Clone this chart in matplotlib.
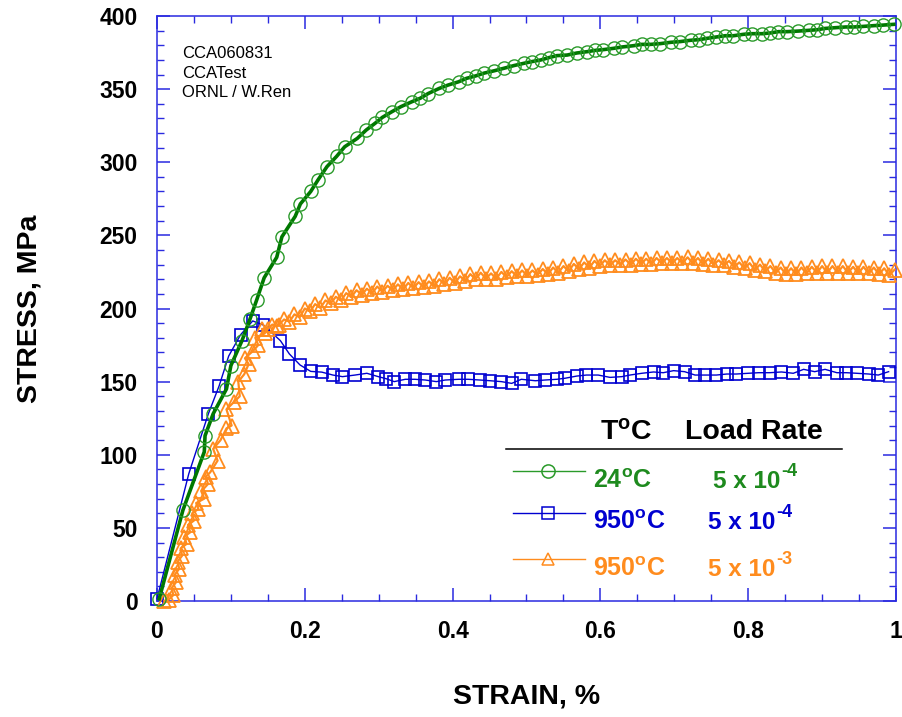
import matplotlib
matplotlib.use('Agg')
import matplotlib.pyplot as plt
from matplotlib.ticker import MultipleLocator
from matplotlib.lines import Line2D
from matplotlib.text import Annotation

plt.rcParams['font.family'] = ['Liberation Sans', 'DejaVu Sans']
plt.rcParams['mathtext.fontset'] = 'custom'
plt.rcParams['mathtext.rm'] = 'Liberation Sans:bold'
plt.rcParams['mathtext.it'] = 'Liberation Sans:bold'
plt.rcParams['mathtext.bf'] = 'Liberation Sans:bold'

# ---------------- data ----------------
green_strain = [0.003, 0.035, 0.064, 0.065, 0.076, 0.094, 0.100, 0.115, 0.126, 0.135,
                0.145, 0.162, 0.169, 0.187, 0.194, 0.208, 0.218, 0.230, 0.243, 0.254,
                0.271, 0.283, 0.295, 0.305, 0.318, 0.330, 0.345, 0.356, 0.367, 0.382,
                0.394, 0.408, 0.419, 0.431, 0.443, 0.456, 0.469, 0.483, 0.496, 0.507,
                0.519, 0.530, 0.541, 0.555, 0.568, 0.582, 0.593, 0.604, 0.618, 0.629,
                0.645, 0.656, 0.668, 0.681, 0.695, 0.708, 0.722, 0.733, 0.744, 0.756,
                0.769, 0.780, 0.794, 0.805, 0.819, 0.830, 0.841, 0.853, 0.868, 0.882,
                0.893, 0.904, 0.918, 0.932, 0.943, 0.956, 0.970, 0.983, 0.997]
green_stress = [1.5, 62, 102, 113, 128, 145, 161, 178, 193, 206,
                221, 235, 249, 263, 271.5, 280, 288, 297, 304, 310.6,
                316.3, 322, 326.6, 330.7, 334.6, 338, 341.4, 343.7, 347, 350.5,
                352.8, 355, 357.4, 359, 361, 362.5, 364.2, 366.1, 367.6, 368.8,
                369.9, 371.5, 372.9, 373.3, 374.7, 375.6, 376.5, 377, 377.9, 378.8,
                379.7, 380.6, 380.6, 381.1, 382, 382.5, 383.4, 383.8, 384.7, 385.6,
                386.5, 386.5, 387.5, 387.9, 387.9, 388.4, 389.3, 389.3, 389.7, 390.2,
                390.6, 391.5, 392, 392.5, 392.5, 392.9, 393.4, 393.8, 394.3]

blue_strain = [0.000, 0.043, 0.0695, 0.084, 0.097, 0.113, 0.1295, 0.144, 0.167, 0.179,
               0.1935, 0.208, 0.223, 0.238, 0.251, 0.268, 0.284, 0.2995, 0.310, 0.321,
               0.336, 0.349, 0.363, 0.378, 0.390, 0.408, 0.421, 0.437, 0.451, 0.466,
               0.480, 0.493, 0.512, 0.525, 0.541, 0.552, 0.568, 0.581, 0.597, 0.613,
               0.629, 0.640, 0.656, 0.672, 0.685, 0.699, 0.714, 0.728, 0.742, 0.757,
               0.771, 0.784, 0.800, 0.814, 0.829, 0.845, 0.861, 0.875, 0.890, 0.904,
               0.920, 0.933, 0.947, 0.963, 0.976, 0.990]
blue_stress = [1.5, 87, 128, 147, 167.5, 182, 191.5, 188.7, 178, 169,
               161.4, 157, 156.5, 154.5, 153.4, 154.5, 155.7, 153.4, 152, 150,
               151.6, 151.6, 151.1, 150, 151.1, 151.6, 151.6, 151.1, 150.6, 150,
               148.8, 151.6, 150.6, 151.1, 151.6, 152.3, 153.8, 154.5, 154.5, 152.9,
               153.4, 154.5, 155.7, 156.6, 156.1, 157.5, 156.8, 154.5, 154.5, 154.5,
               155.2, 155.2, 155.7, 156.1, 156.1, 156.6, 155.7, 158.4, 156.8, 158.4,
               156.1, 156.1, 155.7, 155.2, 154.5, 156.8]

orange_strain = [0.010, 0.016, 0.022, 0.020, 0.026, 0.024, 0.030, 0.028, 0.034, 0.032,
                 0.040, 0.037, 0.045, 0.042, 0.050, 0.048, 0.056, 0.053, 0.064, 0.060,
                 0.069, 0.066, 0.072, 0.082, 0.076, 0.086, 0.094, 0.101, 0.094, 0.104,
                 0.112, 0.110, 0.118, 0.124, 0.119, 0.130, 0.137, 0.133, 0.146, 0.142,
                 0.150, 0.156, 0.162,
                 0.165, 0.172, 0.179, 0.186, 0.193, 0.200, 0.207, 0.214, 0.221, 0.228,
                 0.235, 0.242, 0.249, 0.256, 0.263, 0.270, 0.277, 0.284, 0.291, 0.298,
                 0.305, 0.312, 0.319, 0.326, 0.333, 0.340, 0.347, 0.354, 0.361, 0.368,
                 0.375, 0.382, 0.389, 0.396, 0.403, 0.410, 0.417, 0.424, 0.431, 0.438,
                 0.445, 0.452, 0.459, 0.466, 0.473, 0.480, 0.487, 0.494, 0.501, 0.508,
                 0.515, 0.522, 0.529, 0.536, 0.543, 0.550, 0.557, 0.564, 0.571, 0.578,
                 0.585, 0.592, 0.599, 0.606, 0.613, 0.620, 0.627, 0.634, 0.641, 0.648,
                 0.655, 0.662, 0.669, 0.676, 0.683, 0.690, 0.697, 0.704, 0.711, 0.718,
                 0.725, 0.732, 0.739, 0.746, 0.753, 0.760, 0.767, 0.774, 0.781, 0.788,
                 0.795, 0.802, 0.809, 0.816, 0.823, 0.830, 0.837, 0.844, 0.851, 0.858,
                 0.865, 0.872, 0.879, 0.886, 0.893, 0.900, 0.907, 0.914, 0.921, 0.928,
                 0.935, 0.942, 0.949, 0.956, 0.963, 0.970, 0.977, 0.984, 0.991, 0.998]
orange_stress = [0, 1, 4, 9, 13, 18, 22, 27, 31, 36,
                 39, 44, 47, 52, 55, 60, 63, 67, 70, 75,
                 80, 85, 88, 96, 104, 110, 118, 120, 131, 136,
                 140, 150, 155, 162, 166, 171, 175, 180, 183, 186,
                 186, 189, 188,
                 189.0, 192.5, 191.0, 196.0, 194.0, 200.0, 198.0, 203.0, 200.5, 205.5,
                 203.5, 208.0, 205.5, 210.5, 208.0, 212.5, 209.5, 213.5, 210.5, 215.0,
                 211.5, 215.5, 212.5, 216.5, 213.0, 217.5, 214.0, 218.0, 214.5, 218.5,
                 215.5, 220.0, 216.5, 221.0, 217.5, 222.0, 219.0, 223.5, 220.0, 224.5,
                 220.5, 224.0, 220.5, 225.0, 221.5, 225.5, 222.0, 226.0, 222.5, 226.0,
                 223.0, 227.0, 223.5, 228.0, 224.5, 229.0, 225.5, 230.5, 227.0, 231.5,
                 228.0, 232.5, 229.0, 233.0, 229.5, 233.0, 230.0, 233.5, 230.0, 234.0,
                 230.5, 234.0, 230.5, 234.5, 231.0, 234.5, 231.0, 234.5, 231.0, 235.0,
                 231.0, 234.5, 230.5, 234.0, 230.0, 233.0, 229.5, 232.5, 228.5, 231.5,
                 227.5, 231.0, 226.5, 230.0, 225.5, 229.0, 224.5, 228.0, 223.5, 227.5,
                 223.5, 228.0, 224.0, 228.5, 224.5, 229.0, 224.5, 229.0, 224.5, 229.0,
                 224.5, 228.5, 224.0, 228.5, 224.0, 228.0, 223.5, 227.5, 223.0, 226.5]

x_ticks = [0, 0.2, 0.4, 0.6, 0.8, 1.0]
x_tick_labels = ['0', '0.2', '0.4', '0.6', '0.8', '1']
y_ticks = [0, 50, 100, 150, 200, 250, 300, 350, 400]

info_lines = ['CCA060831', 'CCATest', 'ORNL / W.Ren']
legend_temps = ['24$^{\\mathdefault{o}}$C', '950$^{\\mathdefault{o}}$C', '950$^{\\mathdefault{o}}$C']
legend_rate_base = ['5 x 10', '5 x 10', '5 x 10']
legend_rate_exp = ['-4', '-4', '-3']

# ---------------- style ----------------
W, H = 903, 717
GREEN_LINE = '#007800'
GREEN_MK = '#2a9a2a'
GREEN_TXT = '#1e8a1e'
BLUE = '#0000d0'
ORANGE = '#ff8c1e'
FRAME = '#2a2ae0'

def px(x, y):
    return (x / W, 1 - y / H)

fig = plt.figure(figsize=(W / 100, H / 100), dpi=100)
ax = fig.add_axes([157 / W, 1 - 601 / H, (896 - 157) / W, (601 - 16) / H])

ax.plot(blue_strain, blue_stress, color=BLUE, lw=1.0, marker='s', ms=9,
        mfc='none', mec=BLUE, mew=1.2, clip_on=False, zorder=3)
ax.plot(orange_strain, orange_stress, color=ORANGE, lw=1.6, marker='^', ms=9.5,
        mfc='none', mec=ORANGE, mew=1.3, clip_on=False, zorder=4)
ax.plot(green_strain, green_stress, color=GREEN_LINE, lw=2.6, clip_on=False, zorder=5)
ax.plot(green_strain, green_stress, linestyle='none', marker='o', ms=9.5,
        mfc='none', mec=GREEN_MK, mew=1.0, clip_on=False, zorder=6)

ax.set_xlim(0, 1)
ax.set_ylim(0, 400)
ax.set_xticks(x_ticks)
ax.set_xticklabels(x_tick_labels)
ax.set_yticks(y_ticks)
ax.xaxis.set_minor_locator(MultipleLocator(0.05))
ax.yaxis.set_minor_locator(MultipleLocator(10))

for s in ax.spines.values():
    s.set_color(FRAME)
    s.set_linewidth(1.1)
ax.tick_params(which='both', direction='in', top=True, right=True, colors=FRAME,
               labelcolor='black')
ax.tick_params(which='major', length=9.5, width=1.1, labelsize=16.5, pad=14)
ax.tick_params(which='minor', length=5, width=1.0)
for lab in ax.get_xticklabels() + ax.get_yticklabels():
    lab.set_fontweight('bold')

# axis labels
fig.text(*px(526.5, 696), 'STRAIN, %', ha='center', va='center',
         fontsize=20.5, fontweight='bold')
fig.text(*px(30, 309), 'STRESS, MPa', ha='center', va='center', rotation=90,
         fontsize=20.5, fontweight='bold')

# info text
for i, t in enumerate(info_lines):
    fig.text(*px(182, 58 + 19.5 * i), t, ha='left', va='baseline', fontsize=12)

# legend block
fig.text(*px(600, 439), 'T$^{\\mathdefault{o}}$C', ha='left', va='baseline',
         fontsize=20.5, fontweight='bold')
fig.text(*px(685, 439), 'Load Rate', ha='left', va='baseline',
         fontsize=20.5, fontweight='bold')
fig.add_artist(Line2D([506 / W, 842 / W], [1 - 449 / H, 1 - 449 / H],
                      color='black', lw=1.1, transform=fig.transFigure))

entry_line_y = [471, 513, 559]
entry_text_y = [488, 529, 576]
entry_rate_x = [713, 708, 708]
entry_line_col = [GREEN_MK, BLUE, ORANGE]
entry_txt_col = [GREEN_TXT, BLUE, ORANGE]
entry_marker = ['o', 's', '^']
for i in range(3):
    yl = 1 - entry_line_y[i] / H
    fig.add_artist(Line2D([513 / W, 585 / W], [yl, yl], color=entry_line_col[i],
                          lw=1.0, transform=fig.transFigure))
    fig.add_artist(Line2D([548 / W], [yl], color=entry_line_col[i], marker=entry_marker[i],
                          ms=9 if i else 9.5, mfc='none', mec=entry_line_col[i], mew=1.1,
                          linestyle='none', transform=fig.transFigure))
    fig.text(*px(593, entry_text_y[i]), legend_temps[i], ha='left', va='baseline',
             fontsize=18, fontweight='bold', color=entry_txt_col[i])
    base = fig.text(*px(entry_rate_x[i], entry_text_y[i]), legend_rate_base[i], ha='left',
                    va='baseline', fontsize=17.5, fontweight='bold', color=entry_txt_col[i])
    # exponent placed just after the base text, raised (hyphen-style minus as in reference)
    fig.add_artist(Annotation(
        legend_rate_exp[i], xy=(1.0, 0.0), xycoords=base, xytext=(0.5, 12.5),
        textcoords='offset points', fontsize=13, fontweight='bold',
        color=entry_txt_col[i], ha='left', va='baseline'))

fig.savefig('out.png', dpi=100)
